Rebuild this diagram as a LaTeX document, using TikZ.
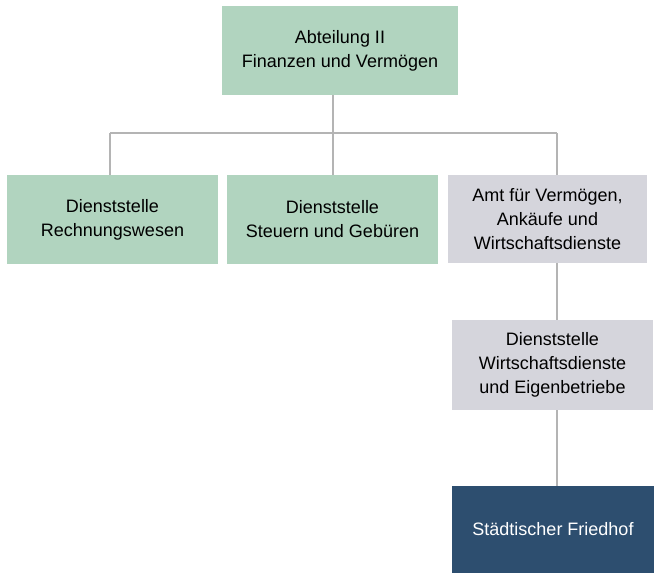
\documentclass[tikz,border=0pt]{standalone}
\usepackage{fontspec}
\setmainfont{Liberation Sans}
\usepackage{tikz}
\usetikzlibrary{positioning}

\definecolor{amtgreen}{HTML}{B1D4BF}
\definecolor{amtgray}{HTML}{D5D5DC}
\definecolor{amtnavy}{HTML}{2D4E6F}
\definecolor{linegray}{HTML}{B4B4B4}

\tikzset{
  unit/.style={fill=#1, inner sep=0pt, align=center,
    font=\fontsize{18}{24}\selectfont},
  link/.style={draw=linegray, line width=2.5pt}
}

\begin{document}
\begin{tikzpicture}[x=1pt, y=-1pt]
      \useasboundingbox (0,0) rectangle (654,573);

      \node(abt) [unit=amtgreen, minimum width=236pt, minimum height=89pt] at (340,50.5) {Abteilung II\\Finanzen und Vermögen};
      \node(rw) [unit=amtgreen, minimum width=211pt, minimum height=89pt] at (112.5,219.5) {Dienststelle\\Rechnungswesen};
      \node(st) [unit=amtgreen, minimum width=211pt, minimum height=89pt] at (332.5,219.5) {Dienststelle\\Steuern und Gebüren};
      \node(amt) [unit=amtgray, minimum width=199pt, minimum height=88pt] at (547.5,219) {Amt für Vermögen,\\Ankäufe und\\Wirtschaftsdienste};
      \node(wd) [unit=amtgray, minimum width=201pt, minimum height=90pt] at (552.5,365) {Dienststelle\\Wirtschaftsdienste\\und Eigenbetriebe};
      \node(fh) [unit=amtnavy, text=white, minimum width=202pt, minimum height=87pt] at (553,529.5) {Städtischer Friedhof};

      % Verbindungen
      \coordinate(j1) at (110,133);
      \coordinate(j2) at (333,133);
      \coordinate(j3) at (557,133);

      \draw[link] (j2 |- abt.south) -- (j2);
      \draw[link] (j1) -- (j3);
      \draw[link] (j1) -- (j1 |- rw.north);
      \draw[link] (j2) -- (j2 |- st.north);
      \draw[link] (j3) -- (j3 |- amt.north);
      \draw[link] (j3 |- amt.south) -- (j3 |- wd.north);
      \draw[link] (j3 |- wd.south) -- (j3 |- fh.north);
    \end{tikzpicture}
\end{document}
